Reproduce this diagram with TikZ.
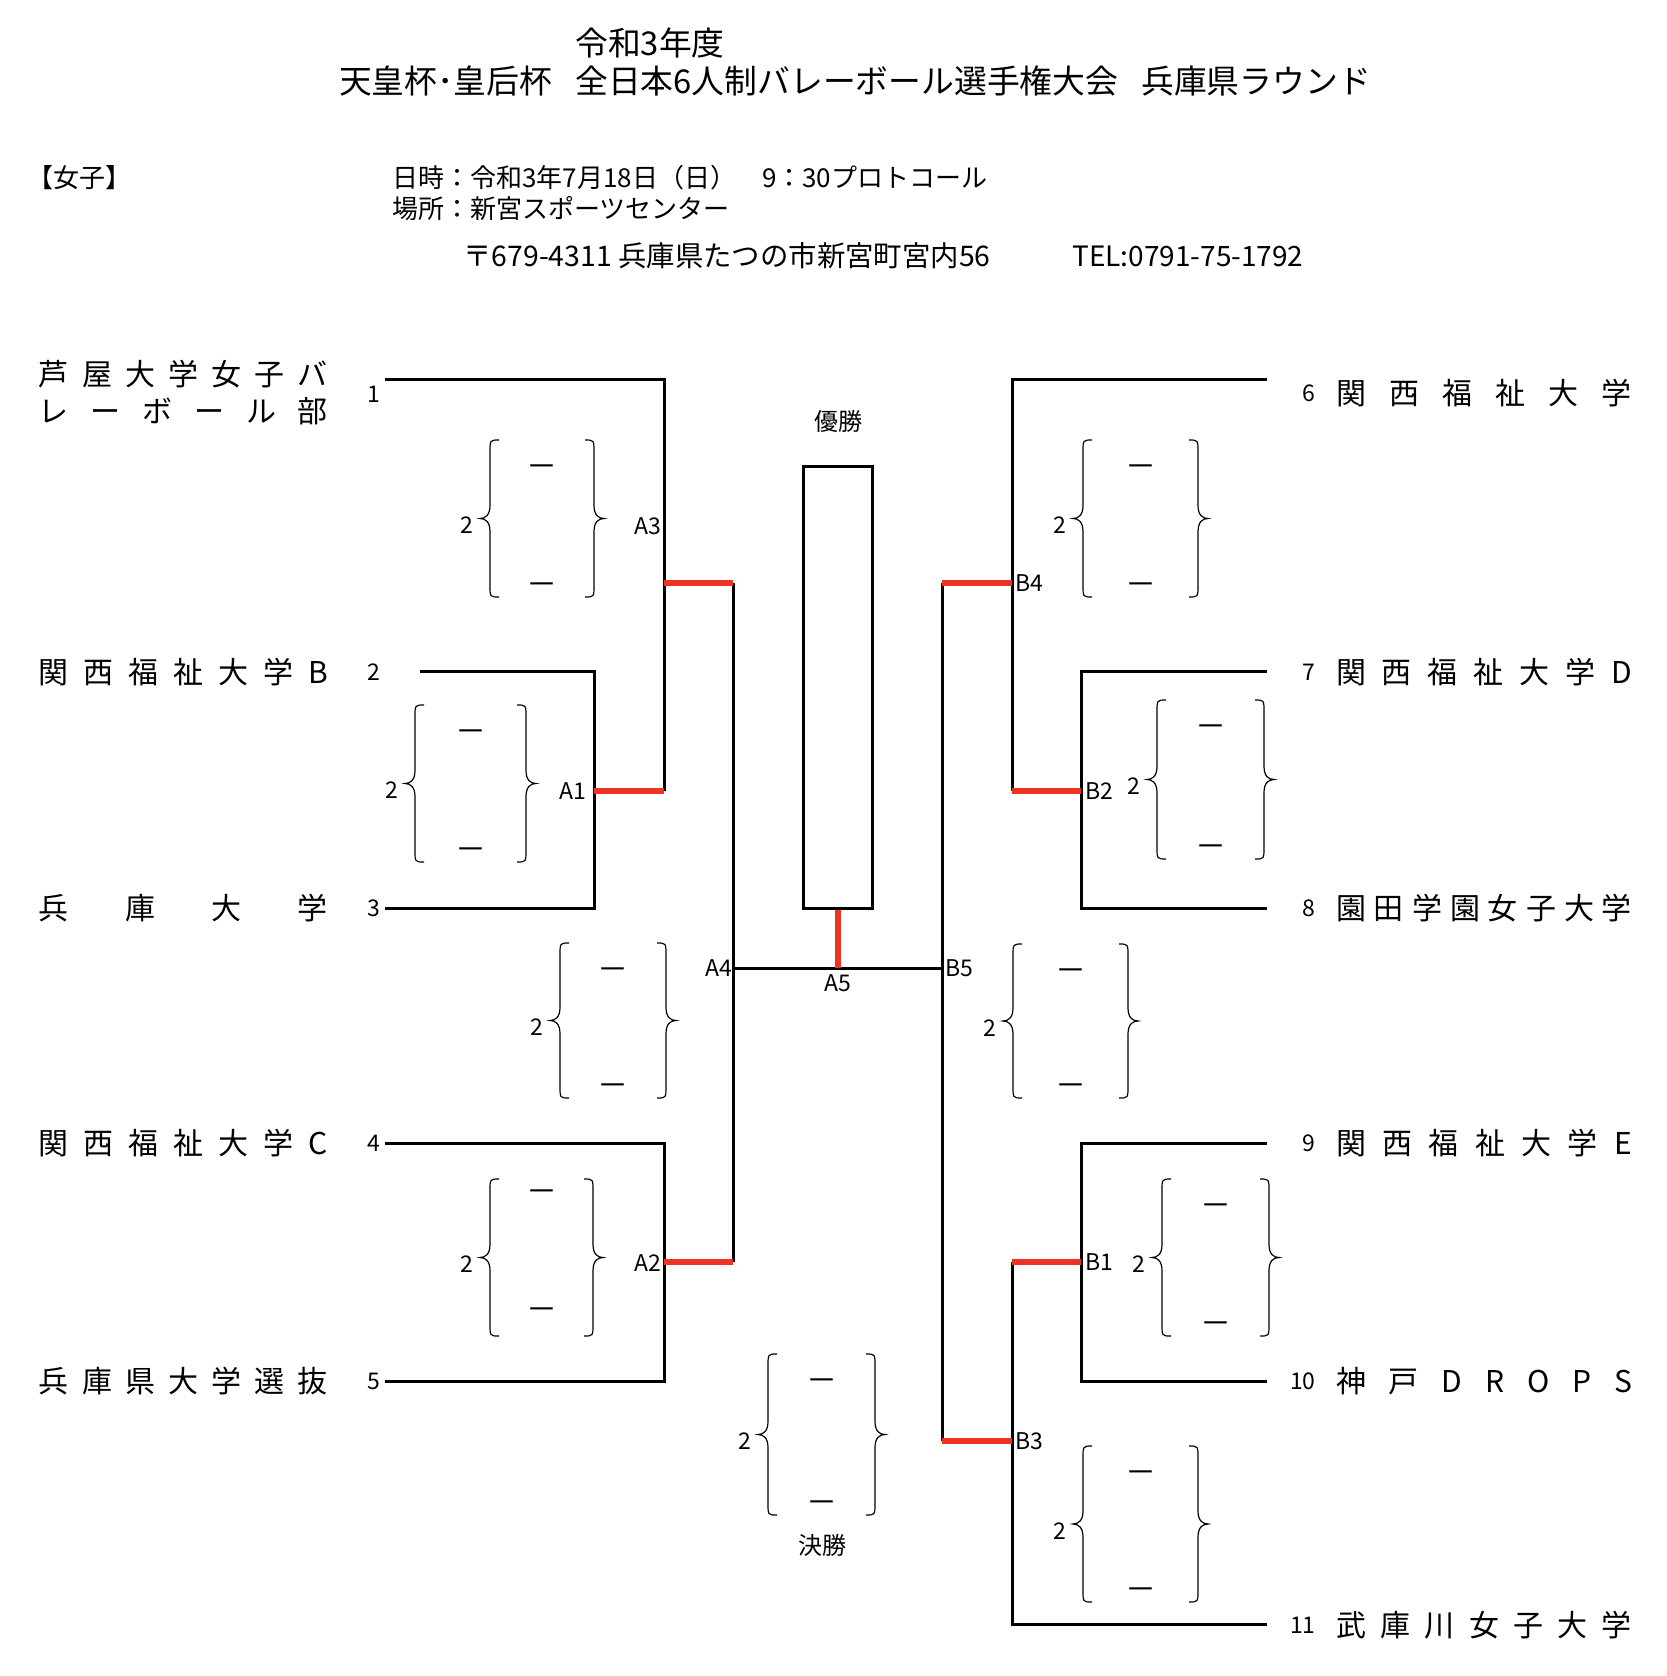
\documentclass[tikz,border=0pt]{standalone}
\usepackage{fontspec}
\setmainfont{Noto Sans CJK JP}
\usetikzlibrary{positioning}
\definecolor{winred}{RGB}{238,51,36}

% score brackets: [dash shift]{name}{left x}{right x}{top}{bottom}
\newcommand{\scorepair}[6][0]{%
  \pgfmathsetmacro{\bmid}{(#5+#6)/2}
  \pgfmathsetmacro{\bcen}{(#3+#4)/2}
  \draw[scorebrace] (#3+9,#5) .. controls (#3,#5) .. (#3,#5+12) -- (#3,\bmid-13)
    .. controls (#3,\bmid-3) and (#3-5,\bmid) .. (#3-10,\bmid)
    .. controls (#3-5,\bmid) and (#3,\bmid+3) .. (#3,\bmid+13) -- (#3,#6-12)
    .. controls (#3,#6) .. (#3+9,#6);
  \draw[scorebrace] (#4-9,#5) .. controls (#4,#5) .. (#4,#5+12) -- (#4,\bmid-13)
    .. controls (#4,\bmid-3) and (#4+5,\bmid) .. (#4+10,\bmid)
    .. controls (#4+5,\bmid) and (#4,\bmid+3) .. (#4,\bmid+13) -- (#4,#6-12)
    .. controls (#4,#6) .. (#4-9,#6);
  \node[lbl] (#2two) at (#3-23,\bmid+7) {2};
  \node[scoredash] (#2up) at (\bcen,#5+31+#1) {－};
  \node[scoredash] (#2dn) at (\bcen,#6-8+#1) {－};
}

\begin{document}
\begin{tikzpicture}[x=0.5pt, y=-0.5pt,
  bline/.style={line width=1.5pt},
  rline/.style={line width=3pt, draw=winred},
  scorebrace/.style={line width=0.6pt},
  lbl/.style={inner sep=0pt, font=\fontsize{11.5}{13}\selectfont},
  scoredash/.style={inner sep=0pt, font=\fontsize{15.5}{17}\selectfont},
  teamname/.style={inner sep=0pt, font=\fontsize{15}{18}\selectfont},
  headline/.style={inner sep=0pt, anchor=west, font=\fontsize{13}{16}\selectfont},
  titleline/.style={inner sep=0pt, font=\fontsize{16.4}{20}\selectfont}
]
  \useasboundingbox (0,0) rectangle (1666,1676);

  % header
  \node[titleline] (year) at (650,43) {令和3年度};
  \node[titleline] (title) at (855,81) {天皇杯･皇后杯\hspace{0.7em}全日本6人制バレーボール選手権大会\hspace{0.7em}兵庫県ラウンド};
  \node[headline, anchor=center] (women) at (79,178) {【女子】};
  \node[headline] (date) at (392,178) {日時：令和3年7月18日（日）　9：30プロトコール};
  \node[headline] (place) at (392,209) {場所：新宮スポーツセンター};
  \node[headline, font=\fontsize{14.2}{16}\selectfont] (addr) at (463,256) {〒679-4311 兵庫県たつの市新宮町宮内56};
  \node[headline, font=\fontsize{14}{16}\selectfont] (tel) at (1072,256) {TEL:0791-75-1792};

  % teams
  \node[teamname] (team1a) at (183.5,374) {\makebox[144.5pt][s]{芦 屋 大 学 女 子 バ}};
  \node[teamname] (team1b) at (183.5,411) {\makebox[144.5pt][s]{レ ー ボ ー ル 部}};
  \node[teamname] (team2) at (183.5,672) {\makebox[144.5pt][s]{関 西 福 祉 大 学 B}};
  \node[teamname] (team3) at (183.5,908) {\makebox[144.5pt][s]{兵 庫 大 学}};
  \node[teamname] (team4) at (183.5,1143) {\makebox[144.5pt][s]{関 西 福 祉 大 学 C}};
  \node[teamname] (team5) at (183.5,1381) {\makebox[144.5pt][s]{兵 庫 県 大 学 選 抜}};
  \node[teamname] (team6) at (1484,393) {\makebox[148pt][s]{関 西 福 祉 大 学}};
  \node[teamname] (team7) at (1484,672) {\makebox[148pt][s]{関 西 福 祉 大 学 D}};
  \node[teamname] (team8) at (1484,908) {\makebox[148pt][s]{園 田 学 園 女 子 大 学}};
  \node[teamname] (team9) at (1484,1143) {\makebox[148pt][s]{関 西 福 祉 大 学 E}};
  \node[teamname] (team10) at (1484,1381) {\makebox[148pt][s]{神 戸 D R O P S}};
  \node[teamname] (team11) at (1484,1625) {\makebox[148pt][s]{武 庫 川 女 子 大 学}};

  \node[lbl] (seed1) at (374,394) {1};
  \node[lbl] (seed2) at (374,672) {2};
  \node[lbl] (seed3) at (374,908) {3};
  \node[lbl] (seed4) at (374,1143) {4};
  \node[lbl] (seed5) at (374,1381) {5};
  \node[lbl, anchor=east] (seed6) at (1316,393) {6};
  \node[lbl, anchor=east] (seed7) at (1316,672) {7};
  \node[lbl, anchor=east] (seed8) at (1316,908) {8};
  \node[lbl, anchor=east] (seed9) at (1316,1143) {9};
  \node[lbl, anchor=east] (seed10) at (1316,1381) {10};
  \node[lbl, anchor=east] (seed11) at (1316,1625) {11};

  % left half
  \coordinate (t1) at (385,379);
  \coordinate (t2) at (420,671);
  \coordinate (t3) at (385,908);
  \coordinate (t4) at (385,1143);
  \coordinate (t5) at (385,1381);
  \coordinate (a1) at (594,791);
  \coordinate (a1r) at (664,791);
  \coordinate (a2) at (664,1262);
  \coordinate (a2r) at (733,1262);
  \coordinate (a3) at (664,583);
  \coordinate (a3r) at (733,583);
  \coordinate (a4) at (733,968);
  \coordinate (a5) at (838,968);
  % right half
  \coordinate (t6) at (1267,379);
  \coordinate (t7) at (1267,671);
  \coordinate (t8) at (1267,908);
  \coordinate (t9) at (1267,1143);
  \coordinate (t10) at (1267,1381);
  \coordinate (t11) at (1267,1624);
  \coordinate (b1) at (1081,1262);
  \coordinate (b1l) at (1012,1262);
  \coordinate (b2) at (1081,791);
  \coordinate (b2l) at (1012,791);
  \coordinate (b3) at (1012,1441);
  \coordinate (b3l) at (942,1441);
  \coordinate (b4) at (1012,583);
  \coordinate (b4l) at (942,583);
  \coordinate (b5) at (942,968);

  \node[draw, line width=1.5pt, minimum width=34.5pt, minimum height=221pt, inner sep=0pt] (champ) at (838,687) {};
  \node[lbl, font=\fontsize{12}{14}\selectfont, above=16pt of champ] (winner) {優勝};

  \draw[bline] (t2) -| (a1) |- (t3);
  \draw[bline] (t1) -| (a3) -- (a1r);
  \draw[bline] (t4) -| (a2) |- (t5);
  \draw[bline] (a3r) -- (a2r);
  \draw[bline] (a4) -- (b5);
  \draw[bline] (t7) -| (b2) |- (t8);
  \draw[bline] (t6) -| (b4) -- (b2l);
  \draw[bline] (t9) -| (b1) |- (t10);
  \draw[bline] (b1l) -- (b3) |- (t11);
  \draw[bline] (b4l) -- (b3l);

  \draw[rline] (a1) -- (a1r);
  \draw[rline] (a3) -- (a3r);
  \draw[rline] (a2) -- (a2r);
  \draw[rline] (b2) -- (b2l);
  \draw[rline] (b4) -- (b4l);
  \draw[rline] (b1) -- (b1l);
  \draw[rline] (b3) -- (b3l);
  \draw[rline] (champ.south) -- (a5);

  % match labels
  \node[lbl, anchor=east] (la3) at (662,526) {A3};
  \node[lbl, anchor=east] (la1) at (587,791) {A1};
  \node[lbl, anchor=east] (la2) at (662,1263) {A2};
  \node[lbl, left=0pt of a4] (la4) {A4};
  \node[lbl, below=3pt of a5] (la5) {A5};
  \node[lbl, right=1.5pt of b5] (lb5) {B5};
  \node[lbl, right=1.5pt of b4] (lb4) {B4};
  \node[lbl, right=2pt of b2] (lb2) {B2};
  \node[lbl, right=2pt of b1] (lb1) {B1};
  \node[lbl, right=1.5pt of b3] (lb3) {B3};

  % scores
  \scorepair{sa3}{490}{594}{440}{597}
  \scorepair{sa1}{415}{526}{705}{862}
  \scorepair{sa4}{560}{666}{943}{1098}
  \scorepair[-14]{sa2}{490}{593}{1179}{1336}
  \scorepair{sfin}{768}{875}{1354}{1515}
  \scorepair{sb4}{1083}{1198}{440}{597}
  \scorepair{sb2}{1157}{1264}{700}{859}
  \scorepair{sb5}{1013}{1128}{944}{1098}
  \scorepair{sb1}{1162}{1269}{1179}{1336}
  \scorepair{sb3}{1083}{1198}{1446}{1602}
  \node[lbl, font=\fontsize{12}{14}\selectfont] (final) at (822,1545) {決勝};
\end{tikzpicture}
\end{document}
